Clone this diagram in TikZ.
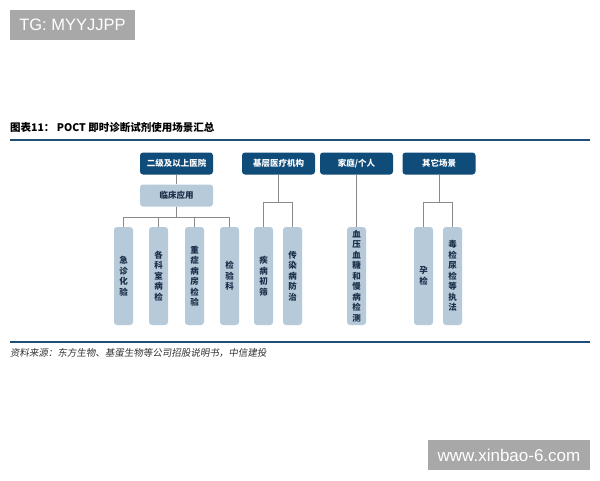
\documentclass[tikz,border=0pt]{standalone}
\usepackage{fontspec}
\setmainfont{Liberation Sans}
\newfontfamily\cjk{Noto Sans CJK SC}
\newfontfamily\cjkslant[FakeSlant=0.15]{Noto Sans CJK SC}
\usetikzlibrary{positioning}

\definecolor{navy}{HTML}{0F4C7A}
\definecolor{paleblue}{HTML}{B7CAD9}
\definecolor{linegray}{HTML}{8A8A8A}
\definecolor{rulebl}{HTML}{1F4E79}
\definecolor{markgray}{HTML}{A8A8A8}
\definecolor{inkblue}{HTML}{1A2E48}

\begin{document}
\begin{tikzpicture}[x = 1pt, y = -1pt,
  topbox/.style = {fill = navy, text = white, shape = rectangle, rounded corners = 3pt, minimum width = 73pt, minimum height = 22pt, inner sep = 0pt, font = \cjk\bfseries\fontsize{8.5}{10}\selectfont},
  midbox/.style = {fill = paleblue, text = inkblue, shape = rectangle, rounded corners = 3pt, minimum width = 73pt, minimum height = 22pt, inner sep = 0pt, font = \cjk\bfseries\fontsize{8.5}{10}\selectfont},
  leafbox/.style = {fill = paleblue, text = inkblue, shape = rectangle, rounded corners = 3pt, minimum width = 19pt, minimum height = 98pt, inner sep = 0pt, align = center, font = \cjk\bfseries\fontsize{8.5}{10.5}\selectfont},
  link/.style = {draw = linegray, line width = 1pt},
  stamp/.style = {fill = markgray, text = white, inner sep = 0pt, minimum height = 30pt}]
\useasboundingbox[fill = white] (0,0) rectangle (600,480);

% watermarks
\node[stamp, minimum width = 125pt, font = \fontsize{16.5}{18}\selectfont] (tg) at (72.5,25) {TG: MYYJJPP};
\node[stamp, minimum width = 162pt, font = \fontsize{17}{19}\selectfont] (web) at (509,455) {www.xinbao-6.com};

% title and rules
\node[anchor = base west, inner sep = 0pt, font = \cjk\bfseries\fontsize{10.5}{12}\selectfont] (title) at (10,131) {图表11： POCT 即时诊断试剂使用场景汇总};
\draw[rulebl, line width = 2.5pt] (10,140) -- (590,140);
\draw[rulebl, line width = 2pt] (10,342) -- (590,342);
\node[anchor = base west, inner sep = 0pt, text = black!80, font = \cjkslant\fontsize{9.5}{11}\selectfont] (src) at (10,356) {资料来源：东方生物、基蛋生物等公司招股说明书，中信建投};

% scenes
\node[topbox] (10) at (176.5,163.5) {二级及以上医院};
\node[topbox] (20) at (278.5,163.5) {基层医疗机构};
\node[topbox] (30) at (356.5,163.5) {家庭/个人};
\node[topbox] (40) at (439,163.5) {其它场景};
\node[midbox] (11) at (176.5,195.5) {临床应用};

% uses
\node[leafbox] (12) at (123.5,276) {急\\诊\\化\\验};
\node[leafbox] (13) at (158.5,276) {各\\科\\室\\病\\检};
\node[leafbox] (14) at (194.5,276) {重\\症\\病\\房\\检\\验};
\node[leafbox] (15) at (229.5,276) {检\\验\\科};
\node[leafbox] (21) at (263.5,276) {疾\\病\\初\\筛};
\node[leafbox] (22) at (292.5,276) {传\\染\\病\\防\\治};
\node[leafbox] (31) at (356.5,276) {血\\压\\血\\糖\\和\\慢\\病\\检\\测};
\node[leafbox] (41) at (423.5,276) {孕\\检};
\node[leafbox] (42) at (452.5,276) {毒\\检\\尿\\检\\等\\执\\法};

% connectors
\draw[link] (10.south) -- (11.north);
\foreach \n in {12,13,14,15}
  \draw[link] (11.south) -- ++(0,11) -| (\n.north);
\foreach \n in {21,22}
  \draw[link] (20.south) -- ++(0,27.5) -| (\n.north);
\draw[link] (30.south) -- (31.north);
\foreach \n in {41,42}
  \draw[link] (40.south) -- ++(0,27.5) -| (\n.north);
\end{tikzpicture}
\end{document}
